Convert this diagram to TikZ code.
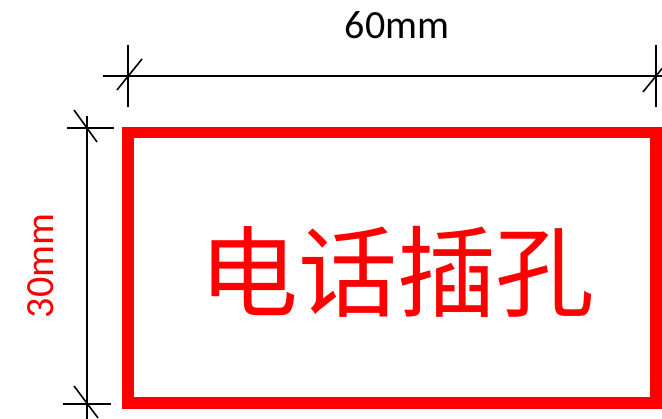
\documentclass[tikz,border=0pt]{standalone}
\usepackage{fontspec}
\setmainfont{Carlito}
\newfontfamily\cjk{Noto Sans CJK SC}
\definecolor{pure}{RGB}{255,0,0}
\begin{document}
\begin{tikzpicture}[x=1pt,y=1pt,
  dimline/.style={black,line width=1.6pt},
  frame/.style={draw=pure,line width=11.5pt,inner sep=0pt,minimum width=528pt,minimum height=270.5pt}]
\useasboundingbox (0,0) rectangle (662,419);
\begin{scope}
\clip (0,0) rectangle (662,419);
% red frame
\node[frame] (box) at (392,151.25) {};
\node[text=pure,font=\cjk\fontsize{99}{99}\selectfont,inner sep=0pt] (lbl) at (397,147) {电话插孔};
% horizontal dimension
\coordinate (hl) at (128,343);
\coordinate (hr) at (656,343);
\coordinate (hs) at (103,343);
\coordinate (he) at (670,343);
\draw[dimline] (hs) -- (he);
\draw[dimline] ([yshift=31]hl) -- ([yshift=-31]hl);
\draw[dimline] ([yshift=31]hr) -- ([yshift=-31]hr);
\draw[dimline] ([shift={(-11,-14)}]hl) -- ([shift={(14,17)}]hl);
\draw[dimline] ([shift={(-13,-16)}]hr) -- ([shift={(13,16)}]hr);
\node[font=\fontsize{40}{40}\selectfont,inner sep=0pt] (w) at (397,394) {60mm};
% vertical dimension
\coordinate (vt) at (87,291);
\coordinate (vb) at (87,15);
\coordinate (vs) at (87,303);
\coordinate (ve) at (87,-5);
\draw[dimline] (vs) -- (ve);
\draw[dimline] ([xshift=-20]vt) -- ([xshift=27]vt);
\draw[dimline] ([xshift=-24]vb) -- ([xshift=24]vb);
\draw[dimline] ([shift={(-13,18)}]vt) -- ([shift={(10,-14)}]vt);
\draw[dimline] ([shift={(-13,18)}]vb) -- ([shift={(11,-14)}]vb);
\node[text=pure,font=\fontsize{40}{40}\selectfont,rotate=90,inner sep=0pt] (h) at (41,153) {30mm};
\end{scope}
\end{tikzpicture}
\end{document}
